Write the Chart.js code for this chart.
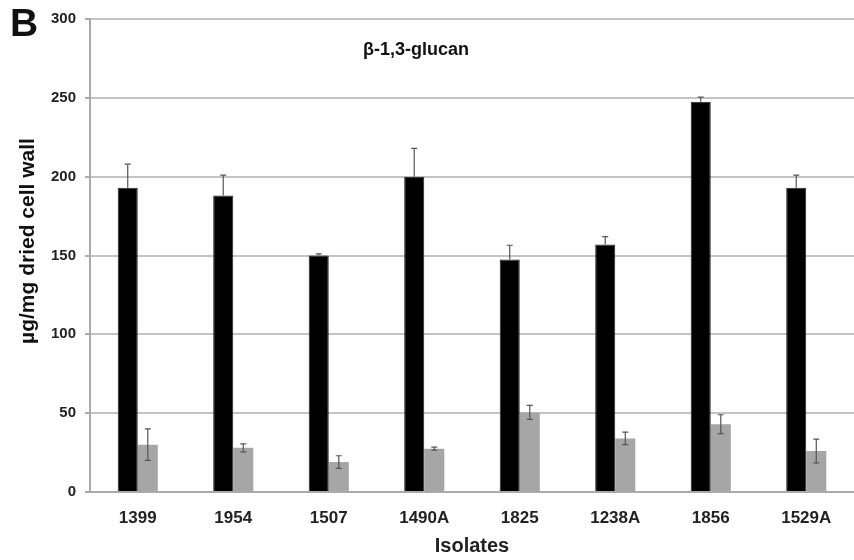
<!DOCTYPE html>
<html lang="en">
<head>
  <meta charset="UTF-8">
  <title>beta-1,3-glucan</title>
  <style>
    body { margin: 0; background: #fff; }
    #wrap { position: relative; width: 854px; height: 560px; }
  </style>
  <script src="https://cdn.jsdelivr.net/npm/chart.js"></script>
</head>
<body>
  <div id="wrap"><canvas id="myChart" width="854" height="560"></canvas></div>
  <script>
    // data
    const isolates = ['1399', '1954', '1507', '1490A', '1825', '1238A', '1856', '1529A'];
    const blackValues = [193, 188, 150, 200, 147.5, 157, 247.5, 193];
    const blackErrors = [15, 13, 1, 18, 9, 5, 3, 8];
    const greyValues = [30, 28, 19, 27.5, 50.5, 34, 43, 26];
    const greyErrors = [10, 2.5, 4, 1, 4.5, 4, 6, 7.5];
    const yTicks = [0, 50, 100, 150, 200, 250, 300];

    const FONT = 'Liberation Sans, Arial, sans-serif';

    // error bars + free text
    const extras = {
      id: 'extras',
      afterDatasetsDraw(chart) {
        const ctx = chart.ctx;
        const y = chart.scales.y;
        const errs = [blackErrors, greyErrors];
        ctx.save();
        ctx.strokeStyle = '#555';
        ctx.lineWidth = 1.2;
        chart.data.datasets.forEach((ds, di) => {
          const meta = chart.getDatasetMeta(di);
          meta.data.forEach((bar, i) => {
            const v = ds.data[i], e = errs[di][i];
            const top = y.getPixelForValue(v + e);
            // the lower half on black bars is hidden in the bar
            const bot = di === 0 ? y.getPixelForValue(v) : y.getPixelForValue(v - e);
            ctx.beginPath();
            ctx.moveTo(bar.x, top); ctx.lineTo(bar.x, bot);
            ctx.moveTo(bar.x - 3, top); ctx.lineTo(bar.x + 3, top);
            if (di === 1) { ctx.moveTo(bar.x - 3, bot); ctx.lineTo(bar.x + 3, bot); }
            ctx.stroke();
          });
        });
        ctx.restore();
      },
      afterDraw(chart) {
        const ctx = chart.ctx;
        ctx.save();
        ctx.fillStyle = '#111';
        ctx.textBaseline = 'middle';
        ctx.textAlign = 'left';
        ctx.font = 'bold 39px ' + FONT;
        ctx.fillText('B', 10, 25);
        ctx.textAlign = 'center';
        ctx.font = 'bold 18px ' + FONT;
        ctx.fillText('β-1,3-glucan', 416, 50);
        ctx.translate(28, 241);
        ctx.rotate(-Math.PI / 2);
        ctx.font = 'bold 21px ' + FONT;
        ctx.fillText('µg/mg dried cell wall', 0, 0);
        ctx.restore();
      }
    };

    new Chart(document.getElementById('myChart').getContext('2d'), {
      type: 'bar',
      data: {
        labels: isolates,
        datasets: [
          { label: 'black', data: blackValues, backgroundColor: '#000', borderColor: '#222', borderWidth: 1 },
          { label: 'grey', data: greyValues, backgroundColor: '#a6a6a6', borderWidth: 0 }
        ]
      },
      options: {
        responsive: false,
        animation: false,
        layout: { padding: { top: 19, right: 0, left: 0, bottom: 0 } },
        datasets: { bar: { categoryPercentage: 0.42, barPercentage: 1 } },
        plugins: { legend: { display: false }, tooltip: { enabled: false } },
        scales: {
          x: {
            grid: { display: false, drawTicks: false },
            border: { color: '#aaa', width: 2 },
            ticks: { color: '#222', padding: 16, font: { family: FONT, size: 17, weight: 'bold' } },
            title: { display: true, text: 'Isolates', color: '#222', padding: { top: 2, bottom: 2 },
                     font: { family: FONT, size: 20, weight: 'bold' } },
            afterFit(scale) { scale.height = 68; }
          },
          y: {
            min: 0, max: 300,
            afterBuildTicks(scale) { scale.ticks = yTicks.map(v => ({ value: v })); },
            grid: { color: '#c4c4c4', lineWidth: 2, tickLength: 5, tickColor: '#aaa' },
            border: { color: '#aaa', width: 2 },
            ticks: { color: '#222', padding: 9, font: { family: FONT, size: 15, weight: 'bold' } },
            afterFit(scale) { scale.width = 90; }
          }
        }
      },
      plugins: [extras]
    });
  </script>
</body>
</html>
